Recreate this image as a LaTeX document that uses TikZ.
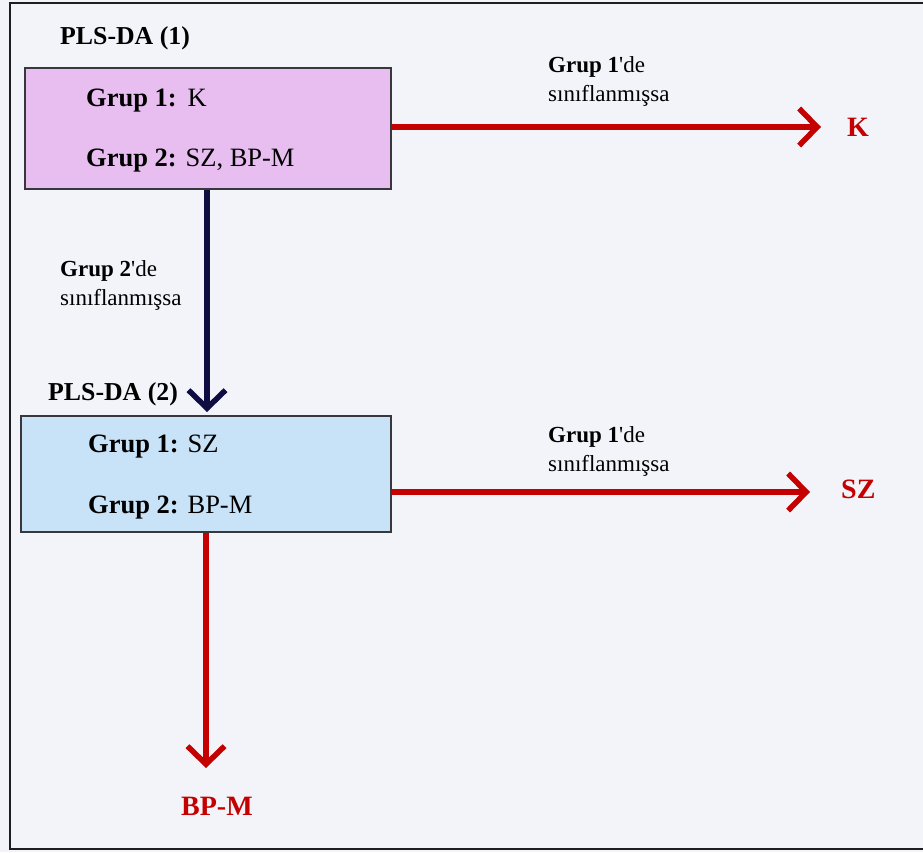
\documentclass[tikz,border=0pt]{standalone}
\usepackage{fontspec}
\setmainfont{Liberation Serif}
\newfontfamily\rawserif{Liberation Serif}
\usetikzlibrary{arrows.meta}
\definecolor{bgc}{RGB}{243,244,249}
\definecolor{framec}{RGB}{30,30,30}
\definecolor{boxline}{RGB}{55,55,60}
\definecolor{pinkfill}{RGB}{232,190,240}
\definecolor{bluefill}{RGB}{200,226,247}
\definecolor{redc}{RGB}{196,0,0}
\definecolor{navyc}{RGB}{14,12,64}
\tikzset{
  boxstyle/.style={draw=boxline, line width=2pt, inner sep=0pt, anchor=north west},
  boxtext/.style={anchor=base west, inner sep=0pt, font=\fontsize{26.5}{30}\selectfont},
  titletext/.style={anchor=base west, inner sep=0pt, font=\fontsize{25.8}{30}\selectfont\bfseries},
  labeltext/.style={anchor=base west, inner sep=0pt, align=left, font=\rawserif\fontsize{23}{29}\selectfont},
  redlabel/.style={anchor=base west, inner sep=0pt, text=redc, font=\fontsize{28}{32}\selectfont\bfseries},
  chev/.style={-{Straight Barb[length=18pt, width=37pt, line width=5.5pt]}, line width=5.5pt},
  redarrow/.style={chev, draw=redc},
  navyarrow/.style={chev, draw=navyc}
}
\begin{document}
\begin{tikzpicture}[x=1pt,y=-1pt]
\useasboundingbox (0,0) rectangle (923,852);
\fill[bgc] (0,0) rectangle (923,852);
\draw[framec, line width=2.2pt] (10,3) rectangle (950,849);

% boxes
\node[boxstyle, fill=pinkfill, minimum width=366pt, minimum height=121pt] (b1) at (24,67) {};
\node[boxstyle, fill=bluefill, minimum width=370pt, minimum height=116pt] (b2) at (20,415) {};

% titles
\node[titletext] (t1) at (60,44) {PLS-DA (1)};
\node[titletext] (t2) at (48,400) {PLS-DA (2)};

% box texts
\node[boxtext] (b1g1) at (86,106) {\textbf{Grup 1:}\hspace{2pt} K};
\node[boxtext] (b1g2) at (86,166) {\textbf{Grup 2:} SZ, BP-M};
\node[boxtext] (b2g1) at (88,452) {\textbf{Grup 1:} SZ};
\node[boxtext] (b2g2) at (88,513) {\textbf{Grup 2:} BP-M};

% end coordinates
\coordinate (tipK) at (821,127);
\coordinate (tipSZ) at (810,492);
\coordinate (tipB) at (206,768);

% arrows
\draw[redarrow] (b1.east |- tipK) -- (tipK);
\draw[redarrow] (b2.east |- tipSZ) -- (tipSZ);
\draw[navyarrow] (b1.south -| 207,0) -- (207,412);
\draw[redarrow] (b2.south -| tipB) -- (tipB);

% labels (anchor at baseline of last line)
\node[labeltext] (l1) at (548,101) {\textbf{Grup 1}'de\\sınıflanmışsa};
\node[labeltext] (l2) at (548,471) {\textbf{Grup 1}'de\\sınıflanmışsa};
\node[labeltext] (l3) at (60,305) {\textbf{Grup 2}'de\\sınıflanmışsa};

% outcome labels
\node[redlabel] (oK) at (847,136) {K};
\node[redlabel] (oSZ) at (841,498) {SZ};
\node[redlabel] (oB) at (181,815) {BP-M};
\end{tikzpicture}
\end{document}
